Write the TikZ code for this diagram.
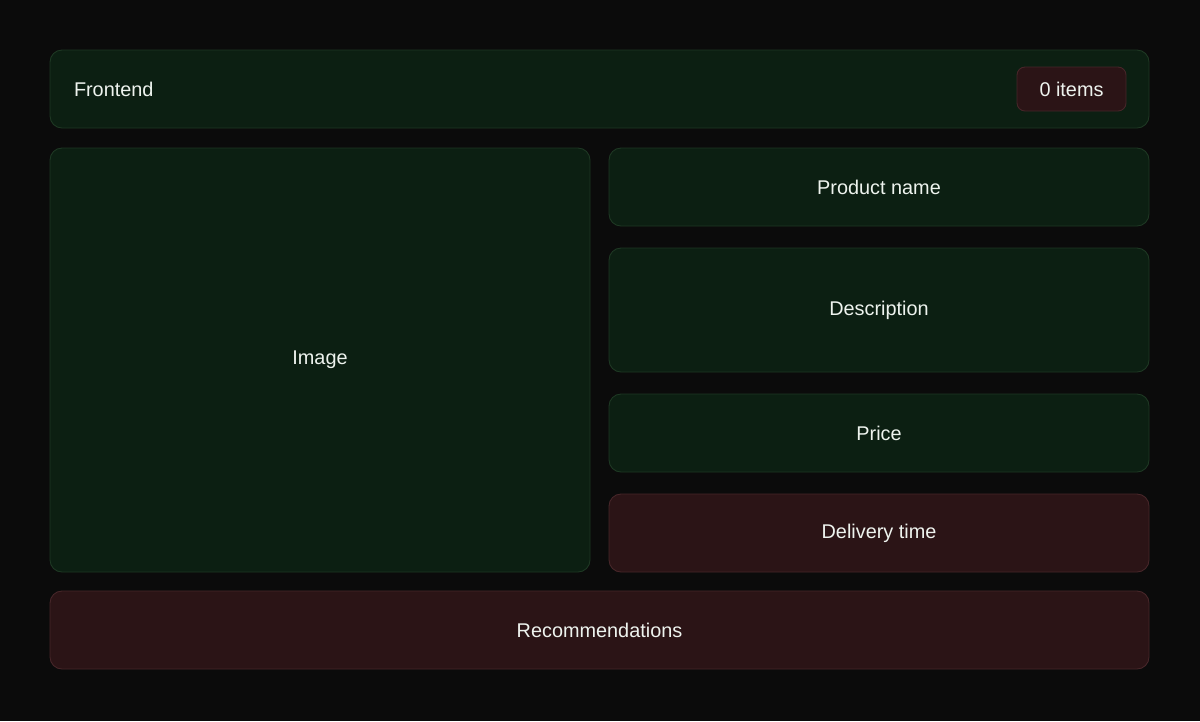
\documentclass[tikz,border=0pt]{standalone}
\usepackage{fontspec}
\setmainfont{Liberation Sans}

\definecolor{bgdark}{HTML}{0B0B0B}
\definecolor{greenfill}{HTML}{0C1F12}
\definecolor{greenline}{HTML}{1E3823}
\definecolor{redfill}{HTML}{2B1416}
\definecolor{redline}{HTML}{472629}
\definecolor{labeltext}{HTML}{EEF3EE}

\begin{document}
\begin{tikzpicture}[
    panel/.style={draw=greenline, fill=greenfill, line width=0.5pt, rounded corners=0.24cm,
        text=labeltext, font=\fontsize{11.3}{13}\selectfont, inner sep=0pt,
        minimum width=10.8cm},
    redpanel/.style={panel, draw=redline, fill=redfill}
]
% background
\fill[bgdark] (0,0) rectangle (24,-14.42);
\useasboundingbox (0,0) rectangle (24,-14.42);

% header bar
\node[panel, minimum width=21.98cm, minimum height=1.56cm, text width=21.02cm, align=left]
    (frontend) at (11.99,-1.78) {Frontend};
\node[redpanel, minimum width=2.18cm, minimum height=0.88cm, rounded corners=0.16cm]
    (items) at (21.43,-1.78) {0 items};

% product page
\node[panel, minimum height=8.48cm] (image) at (6.4,-7.2) {Image};
\node[panel, minimum height=1.56cm] (name) at (17.58,-3.74) {Product name};
\node[panel, minimum height=2.48cm] (description) at (17.58,-6.2) {Description};
\node[panel, minimum height=1.56cm] (price) at (17.58,-8.66) {Price};
\node[redpanel, minimum height=1.56cm] (delivery) at (17.58,-10.66) {Delivery time};

% footer
\node[redpanel, minimum width=21.98cm, minimum height=1.56cm] (recommendations) at (11.99,-12.6) {Recommendations};

\end{tikzpicture}
\end{document}
